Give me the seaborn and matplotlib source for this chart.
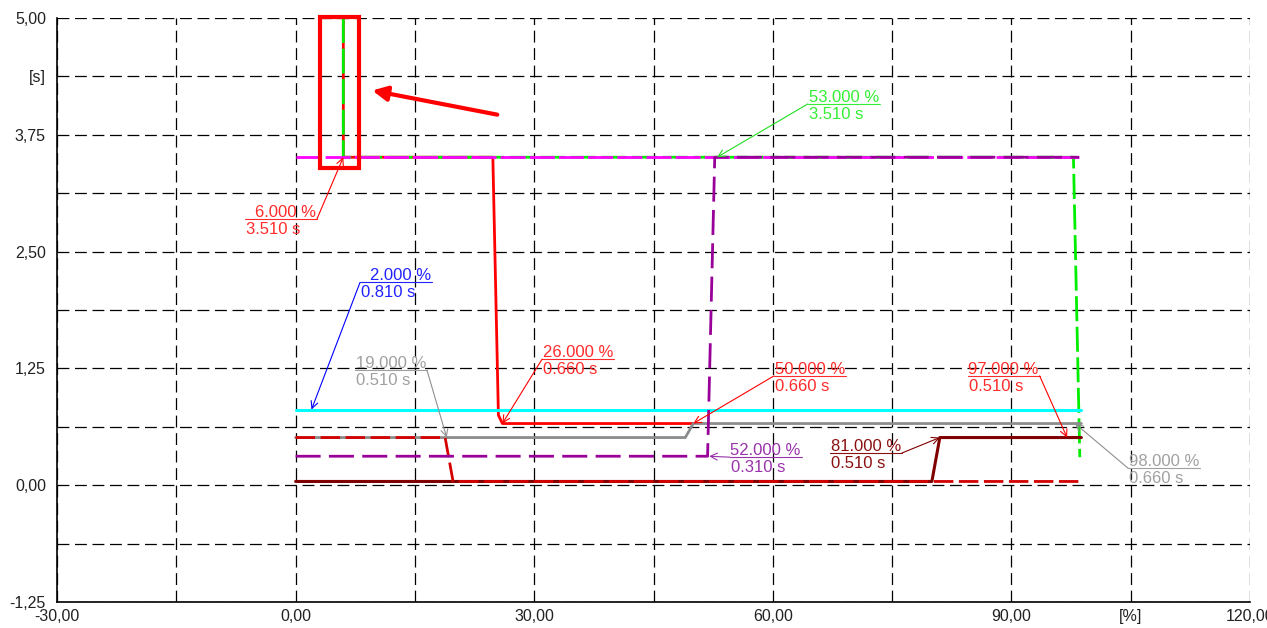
import numpy as np
import matplotlib
matplotlib.use('Agg')
import matplotlib.pyplot as plt
import seaborn as sns
from matplotlib.patches import Rectangle, FancyArrowPatch

# curves, x in [%], y in [s]
red_x = [6, 6, 24.8, 25.5, 26, 50]
red_y = [5.0, 3.51, 3.51, 0.75, 0.66, 0.66]
green_x = [6, 6, 97.8, 98.6]
green_y = [5.0, 3.51, 3.51, 0.30]
magenta_x = [0, 98.5]
magenta_y = [3.51, 3.51]
purple_x = [0, 51.8, 52.7, 98.5]
purple_y = [0.31, 0.31, 3.51, 3.51]
cyan_x = [0, 98.8]
cyan_y = [0.81, 0.81]
gray_x = [0, 49, 50, 98.8]
gray_y = [0.51, 0.51, 0.66, 0.66]
maroon_x = [0, 80, 81, 98.8]
maroon_y = [0.04, 0.04, 0.51, 0.51]
darkred_x = [0, 18.8, 19.8, 98.8]
darkred_y = [0.51, 0.51, 0.04, 0.04]

# point labels
ann_pct = [6, 53, 2, 19, 26, 50, 52, 81, 97, 98]
ann_sec = [3.51, 3.51, 0.81, 0.51, 0.66, 0.66, 0.31, 0.51, 0.51, 0.66]
ann_text_color = ['#ff2a2a', '#33ee33', '#2222ff', '#a0a0a0', '#ff2a2a',
                  '#ff2a2a', '#9933aa', '#8b1010', '#ff2a2a', '#a0a0a0']
ann_line_color = ['#ff0000', '#22dd22', '#0000ff', '#909090', '#ff0000',
                  '#ff0000', '#9933aa', '#800000', '#ff0000', '#909090']
# where the underline of each label starts (left end) and which end the leader uses
ann_label_x = [-6.36, 64.4, 8.1, 7.47, 31.0, 60.15, 54.6, 67.2, 84.5, 104.7]
ann_label_y = [2.85, 4.08, 2.17, 1.23, 1.35, 1.17, 0.30, 0.345, 1.17, 0.18]
ann_side = ['right', 'left', 'left', 'right', 'left', 'left', 'left', 'right', 'right', 'left']
ul_width = 9.05

x_ticks = np.arange(-30, 121, 15)
x_ticklabels = ['-30,00', '', '0,00', '', '30,00', '', '60,00', '', '90,00', '[%]', '120,00']
y_ticks = np.arange(-1.25, 5.01, 0.625)
y_ticklabels = ['-1,25', '', '0,00', '', '1,25', '', '2,50', '', '3,75', '[s]', '5,00']

sns.set_style('white')
plt.rcParams['font.family'] = ['Liberation Sans', 'DejaVu Sans']

fig = plt.figure(figsize=(12.67, 6.28), dpi=100)
ax = fig.add_axes([57 / 1267, 26 / 628, (1250 - 57) / 1267, (602 - 18) / 628])

# draw order matters: dashed lines let the ones below peek through
sns.lineplot(x=red_x, y=red_y, sort=False, estimator=None, color='#ff0000', lw=2, ax=ax)
sns.lineplot(x=green_x, y=green_y, sort=False, estimator=None, color='#00ee00', lw=2,
             ls=(0, (9, 2)), ax=ax)
sns.lineplot(x=magenta_x, y=magenta_y, sort=False, estimator=None, color='#ff00ff', lw=2,
             ls=(0, (9, 1.5)), ax=ax)
sns.lineplot(x=cyan_x, y=cyan_y, sort=False, estimator=None, color='#00ffff', lw=2.2, ax=ax)
sns.lineplot(x=gray_x, y=gray_y, sort=False, estimator=None, color='#8c8c8c', lw=2, ax=ax)
sns.lineplot(x=maroon_x, y=maroon_y, sort=False, estimator=None, color='#800000', lw=2.2, ax=ax)
sns.lineplot(x=darkred_x, y=darkred_y, sort=False, estimator=None, color='#d40000', lw=2,
             ls=(0, (7, 2)), ax=ax)
sns.lineplot(x=purple_x, y=purple_y, sort=False, estimator=None, color='#990099', lw=2,
             ls=(0, (9, 3)), ax=ax)

# labels with underline and leader arrow
for i in range(len(ann_pct)):
    x0, y0 = ann_label_x[i], ann_label_y[i]
    x1 = x0 + ul_width
    tc, lc = ann_text_color[i], ann_line_color[i]
    ax.plot([x0, x1], [y0, y0], color=tc, lw=0.8, clip_on=False)
    ax.annotate(f'{ann_pct[i]:.3f} %', xy=(x1, y0), xytext=(-1, 2), textcoords='offset pixels',
                ha='right', va='baseline', color=tc, fontsize=12, annotation_clip=False)
    ax.annotate(f'{ann_sec[i]:.3f} s', xy=(x0, y0), xytext=(1, -3), textcoords='offset pixels',
                ha='left', va='top', color=tc, fontsize=12, annotation_clip=False)
    start = (x1, y0) if ann_side[i] == 'right' else (x0, y0)
    ax.annotate('', xy=(ann_pct[i], ann_sec[i]), xytext=start,
                arrowprops=dict(arrowstyle='->,head_length=0.5,head_width=0.25',
                                color=lc, lw=0.8, shrinkA=0, shrinkB=0))

# red highlight box and arrow around the 6 % point
hx, hy = ann_pct[0], ann_sec[0]
ax.add_patch(Rectangle((hx - 2.93, hy - 0.115), 4.9, 5.01 - hy + 0.115, fill=False,
                       ec='#ff0000', lw=3, clip_on=False, zorder=5))
ax.add_patch(FancyArrowPatch((hx + 19.7, hy + 0.45), (hx + 3.3, hy + 0.72),
                             arrowstyle='-|>', mutation_scale=22, color='#ff0000',
                             lw=3, zorder=5))

ax.set_xlim(-30, 120)
ax.set_ylim(-1.25, 5.0)
ax.set_xticks(x_ticks)
ax.set_xticklabels(x_ticklabels)
ax.set_yticks(y_ticks)
ax.set_yticklabels(y_ticklabels)
ax.tick_params(length=0, labelsize=11.5, labelcolor='#222222')
ax.tick_params(axis='y', pad=8)
ax.tick_params(axis='x', pad=5)

ax.set_axisbelow(True)
ax.grid(True, color='black', lw=0.9, ls=(0, (9.5, 4.5)))
ax.spines['top'].set_visible(False)
ax.spines['right'].set_visible(False)
for s in ['left', 'bottom']:
    ax.spines[s].set_color('black')
    ax.spines[s].set_linewidth(1.2)

fig.savefig('out.png', dpi=100)
